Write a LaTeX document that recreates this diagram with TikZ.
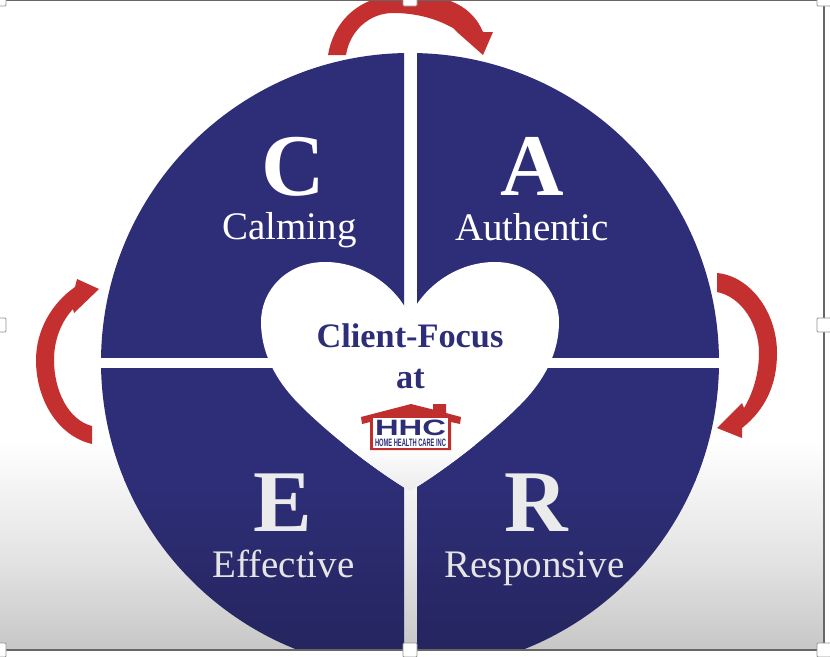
\documentclass[tikz,border=0pt]{standalone}
\usepackage{fontspec}
\usepackage{graphicx}
\setmainfont{Liberation Serif}
\newfontfamily\logofont{Liberation Sans}
\definecolor{navy}{HTML}{2E2E78}
\definecolor{navylow}{HTML}{25255F}
\definecolor{arrowred}{HTML}{C4302F}
\definecolor{logored}{HTML}{BE2F2E}
\definecolor{framegrey}{HTML}{666666}
\tikzset{
  bigletter/.style={anchor=base,inner sep=0pt,font=\bfseries\fontsize{88}{88}\selectfont},
  word/.style={anchor=base,inner sep=0pt,font=\fontsize{39}{41}\selectfont},
  centertext/.style={anchor=base,inner sep=0pt,text=navy,font=\bfseries\fontsize{34.3}{36}\selectfont},
  curvedarrow/.style={fill=arrowred,draw=none},
  handle/.style={fill=white,draw=framegrey!70,line width=0.8pt,rounded corners=1pt},
}
\begin{document}
\begin{tikzpicture}[x=1pt,y=-1pt]
\useasboundingbox (0,0) rectangle (830,656);
\clip (0,0) rectangle (830,656);
\fill[white] (0,0) rectangle (830,656);
% background gradient
\shade[top color=white,bottom color=white!89!black] (0,440) rectangle (823,560);
\shade[top color=white!89!black,bottom color=white!78!black] (0,560) rectangle (823,650);
% quadrants of the disc
\begin{scope}
  \clip (90,40) rectangle (404,357);
  \fill[navy] (410,362) circle[radius=309];
\end{scope}
\begin{scope}
  \clip (417,40) rectangle (730,357);
  \fill[navy] (410,362) circle[radius=309];
\end{scope}
\begin{scope}
  \clip (90,368) rectangle (404,649);
  \clip (410,362) circle[radius=309];
  \shade[top color=navy,bottom color=navylow] (90,480) rectangle (404,649);
  \fill[navy] (90,368) rectangle (404,481);
\end{scope}
\begin{scope}
  \clip (417,368) rectangle (730,649);
  \clip (410,362) circle[radius=309];
  \shade[top color=navy,bottom color=navylow] (417,480) rectangle (730,649);
  \fill[navy] (417,368) rectangle (730,481);
\end{scope}
% heart
\begin{scope}
  \path[clip,preaction={fill=white}]
  (410,316) .. controls (395,285) and (362,262) .. (325,262)
  .. controls (287,262) and (261,290) .. (261,322)
  .. controls (261,352) and (275,380) .. (300,405)
  .. controls (330,435) and (375,470) .. (410,491)
  .. controls (445,470) and (490,435) .. (520,405)
  .. controls (545,380) and (559,352) .. (559,322)
  .. controls (559,290) and (533,262) .. (495,262)
  .. controls (458,262) and (425,285) .. (410,316) -- cycle;
  \shade[top color=white,bottom color=white!92!black] (250,445) rectangle (570,492);
\end{scope}
% curved arrows
\fill[curvedarrow] (328,55) .. controls (333,25) and (355,-5) .. (405,-6)
  .. controls (450,-6) and (473,8) .. (483,32) -- (493,32) -- (483,55) -- (457,32) -- (453,28)
  .. controls (435,18) and (415,13) .. (393,13)
  .. controls (370,13) and (350,30) .. (346,55) -- cycle;
\fill[curvedarrow] (717,273) .. controls (750,276) and (777,312) .. (777,353)
  .. controls (777,385) and (765,410) .. (742,428) -- (742,438) -- (717,428) -- (742,403) -- (744,408)
  .. controls (752,395) and (759,375) .. (759,353)
  .. controls (759,325) and (742,297) .. (717,292) -- cycle;
\fill[curvedarrow] (92,444) .. controls (58,436) and (36,400) .. (36,360)
  .. controls (36,330) and (52,303) .. (75,287) -- (77,279) -- (99,289) -- (74,313) -- (73,309)
  .. controls (61,322) and (54,340) .. (54,360)
  .. controls (54,390) and (68,420) .. (92,426) -- cycle;
% letters and words
\node[bigletter,text=white] (c) at (293,195) {C};
\node[bigletter,text=white] (a) at (532,195) {A};
\node[bigletter,text=white!92!black] (e) at (283,531) {E};
\node[bigletter,text=white!92!black] (r) at (536,531) {R};
\node[word,text=white] (calming) at (289.5,239) {Calming};
\node[word,text=white] (authentic) at (532,240) {Authentic};
\node[word,text=white!90!black] (effective) at (283.5,577) {Effective};
\node[word,text=white!90!black] (responsive) at (534.5,577) {Responsive};
\node[centertext] (focus) at (410,347) {Client-Focus};
\node[centertext] (at) at (410.5,388) {at};
% logo
\fill[logored] (361,417) -- (411,404) -- (433,409.5) -- (433,404) -- (446,404) -- (446,413) -- (461,417) -- (460,424) -- (451,422) -- (451,450) -- (370,450) -- (370,422) -- (362,424) -- cycle;
\fill[white] (373,418) rectangle (448,447.5);
\node[inner sep=0pt,text=navy] (hhc) at (410.5,428) {\resizebox{71pt}{15.5pt}{\logofont\bfseries HHC}};
\node[inner sep=0pt,text=navy] (hhcname) at (410.5,442.5) {\resizebox{71pt}{7.5pt}{\logofont\bfseries HOME HEALTH CARE INC}};
% screenshot frame and handles
\draw[framegrey,line width=2pt] (0,0) -- (823.5,0) -- (823.5,650) -- (0,650);
\foreach \hx/\hy in {410/-1,824/325,-1/325,410/650,824/-1,824/650,-1/650,-1/-1}
  \draw[handle] (\hx-7,\hy-7) rectangle (\hx+7,\hy+7);
\end{tikzpicture}
\end{document}
